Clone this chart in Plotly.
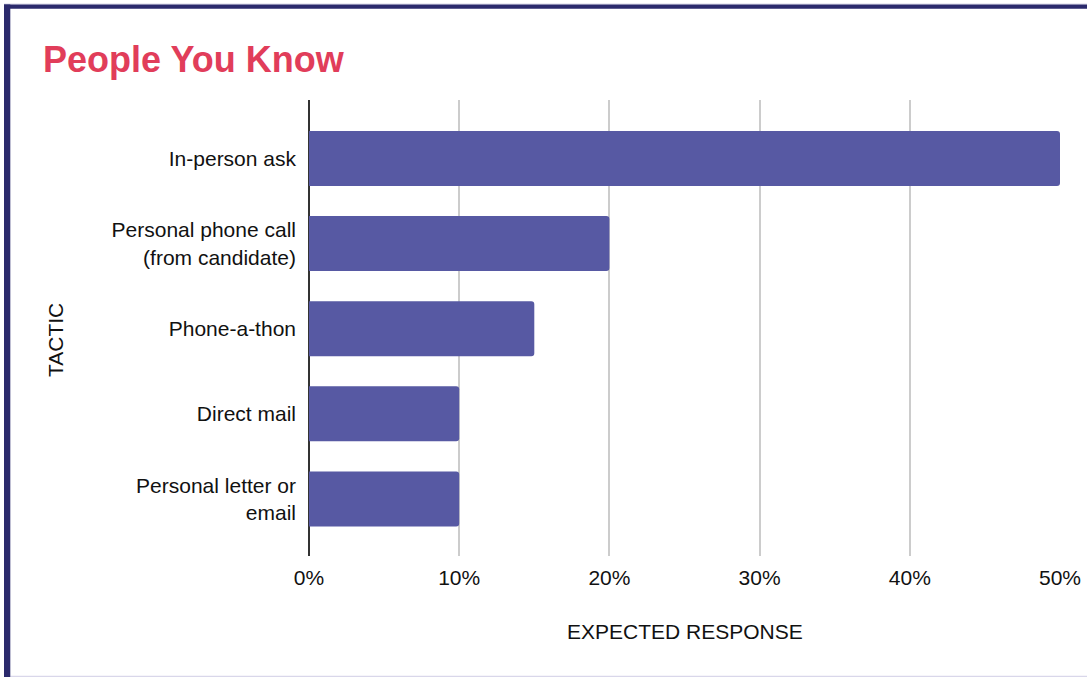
import plotly.graph_objects as go

categories = ["In-person ask", "Personal phone call<br>(from candidate)", "Phone-a-thon",
              "Direct mail", "Personal letter or<br>email"]
values = [0.50, 0.20, 0.15, 0.10, 0.10]
x_ticks = [0, 0.1, 0.2, 0.3, 0.4, 0.5]

W, H = 1087, 677
L, R, T, B = 309, 1060, 100, 556
FONT = "Liberation Sans, Arial, Helvetica"
FS = 21

def px(x):
    return (x - L) / (R - L)

def py(y):
    return (B - y) / (B - T)

fig = go.Figure(go.Bar(
    x=values, y=list(range(len(categories))), orientation="h",
    marker=dict(color="#5759A3", line=dict(width=0)),
    width=0.646, hoverinfo="skip",
))

navy = "#2B2A6C"
lav = "#D9D7EA"
shapes = [
    dict(type="rect", xref="paper", yref="paper", x0=px(4), x1=px(1090), y0=py(4.6), y1=py(3.6),
         fillcolor=lav, line=dict(width=0), layer="above"),
    dict(type="rect", xref="paper", yref="paper", x0=px(4), x1=px(1090), y0=py(8.8), y1=py(4.6),
         fillcolor=navy, line=dict(width=0), layer="above"),
    dict(type="rect", xref="paper", yref="paper", x0=px(10.3), x1=px(1090), y0=py(680), y1=py(675.8),
         fillcolor=lav, line=dict(width=0), layer="above"),
    dict(type="rect", xref="paper", yref="paper", x0=px(4), x1=px(10.3), y0=py(680), y1=py(4.6),
         fillcolor=navy, line=dict(width=0), layer="above"),
]

annotations = [
    dict(text="<b>People You Know</b>", xref="paper", yref="paper", x=px(41), y=py(59),
         xanchor="left", yanchor="middle", showarrow=False,
         font=dict(family=FONT, size=36, color="#E13D5A")),
    dict(text="TACTIC", xref="paper", yref="paper", x=px(55), y=py(340),
         xanchor="center", yanchor="middle", showarrow=False, textangle=-90,
         font=dict(family=FONT, size=FS, color="#111111")),
    dict(text="EXPECTED RESPONSE", xref="paper", yref="paper", x=px(685), y=py(631),
         xanchor="center", yanchor="middle", showarrow=False,
         font=dict(family=FONT, size=FS, color="#111111")),
]

fig.update_layout(
    width=W, height=H,
    margin=dict(l=L, r=W - R, t=T, b=H - B, pad=0),
    paper_bgcolor="white", plot_bgcolor="white",
    showlegend=False,
    barcornerradius=3,
    shapes=shapes, annotations=annotations,
    font=dict(family=FONT, size=FS, color="#111111"),
    xaxis=dict(
        range=[0, 0.5], tickvals=x_ticks, tickformat=".0%",
        showgrid=True, gridcolor="#CCCCCC", gridwidth=1.5,
        zeroline=True, zerolinecolor="#333333", zerolinewidth=2,
        showline=False, ticks="", ticklabelstandoff=7,
        tickfont=dict(size=FS, color="#111111"),
        fixedrange=True, automargin=False,
    ),
    yaxis=dict(
        range=[4.67, -0.687], tickvals=list(range(len(categories))), ticktext=categories,
        showgrid=False, zeroline=False, showline=False, ticks="",
        ticklabelstandoff=12,
        tickfont=dict(size=FS, color="#111111"),
        fixedrange=True, automargin=False,
    ),
)

fig.write_html("out.html")
